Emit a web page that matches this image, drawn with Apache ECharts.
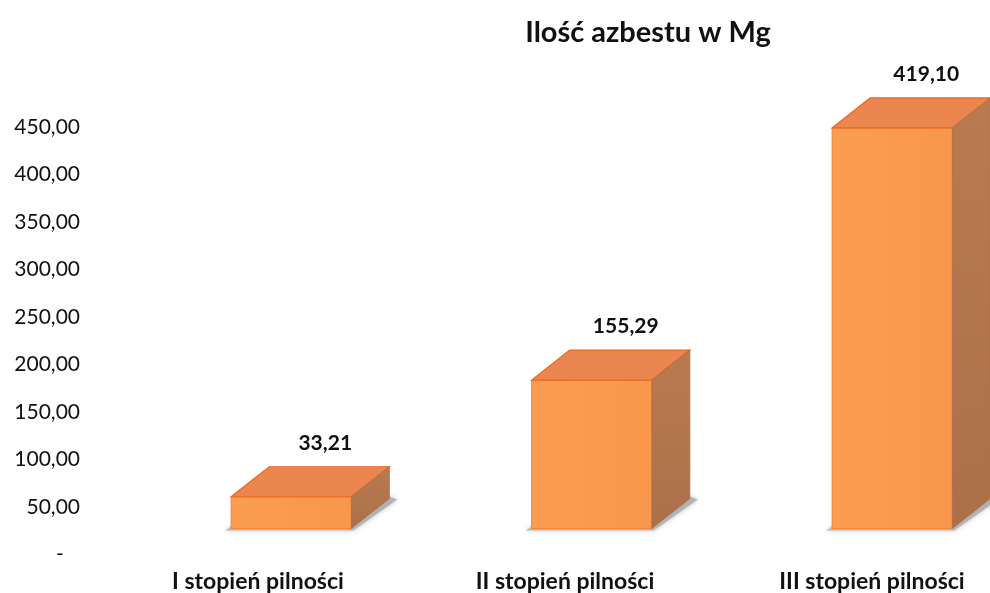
<!DOCTYPE html>
<html>
<head>
<meta charset="utf-8">
<script src="https://cdn.jsdelivr.net/npm/echarts@6/dist/echarts.min.js"></script>
<style>
  html, body { margin: 0; padding: 0; background: #fff; }
  #chart { width: 990px; height: 593px; }
</style>
</head>
<body>
<div id="chart"></div>
<script>
const categories = ['I stopień pilności', 'II stopień pilności', 'III stopień pilności'];
const values = [33.21, 155.29, 419.10];
const yTicks = [0, 50, 100, 150, 200, 250, 300, 350, 400, 450];

const FONT = 'Lato, "Open Sans", sans-serif';
// 3d depth offset of the bars (px)
const DX = 38;
const DY = -30;

function fmt(v) {
  return v.toFixed(2).replace('.', ',');
}

function renderBox(params, api) {
  const idx = api.value(0);
  const val = api.value(1);
  const top = api.coord([idx, val]);
  const base = api.coord([idx, 0]);
  const w = api.size([1, 0])[0] * 0.4;
  const x0 = top[0] - w / 2;
  const x1 = top[0] + w / 2;
  const yT = top[1];
  const yB = base[1];

  return {
    type: 'group',
    children: [
      {
        type: 'polygon',
        shape: { points: [[x0 - 6, yB + 2], [x1 + 2, yB + 2], [x1 + DX + 8, yB + DY + 1], [x1 + DX, yB + DY - 2], [x1, yB - 2], [x0, yB - 2]] },
        style: { fill: 'rgba(160,160,160,0.65)', shadowBlur: 5, shadowColor: 'rgba(140,140,140,0.8)' }
      },
      {
        type: 'rect',
        shape: { x: x0, y: yT, width: w, height: yB - yT },
        style: {
          fill: new echarts.graphic.LinearGradient(0, 0, 1, 0, [
            { offset: 0, color: '#FB9D50' },
            { offset: 1, color: '#F9974C' }
          ]),
          stroke: '#F0823C',
          lineWidth: 1
        }
      },
      {
        type: 'polygon',
        shape: { points: [[x0, yT], [x1, yT], [x1 + DX, yT + DY], [x0 + DX, yT + DY]] },
        style: { fill: '#EB8650', stroke: '#E8681F', lineWidth: 1.2 }
      },
      {
        type: 'polygon',
        shape: { points: [[x1, yT], [x1 + DX, yT + DY], [x1 + DX, yB + DY], [x1, yB]] },
        style: {
          fill: new echarts.graphic.LinearGradient(0, 0, 0, 1, [
            { offset: 0, color: '#BA7A4F' },
            { offset: 1, color: '#AC7049' }
          ]),
          stroke: '#B06E45',
          lineWidth: 0.8
        }
      },
      {
        type: 'text',
        style: {
          text: fmt(val),
          x: top[0] + 34,
          y: yT + DY - 24,
          align: 'center',
          verticalAlign: 'middle',
          font: 'bold 21px ' + FONT,
          fill: '#111'
        }
      }
    ]
  };
}

const chart = echarts.init(document.getElementById('chart'), null, { renderer: 'canvas' });

chart.setOption({
  backgroundColor: '#fff',
  animation: false,
  title: {
    text: 'Ilość azbestu w Mg',
    left: 643,
    textAlign: 'center',
    top: 13,
    textStyle: { fontFamily: FONT, fontWeight: 'bold', fontSize: 29, color: '#111' }
  },
  grid: [
    // y-axis labels
    { left: 88, right: 40, top: 127, bottom: 38.5, outerBoundsMode: 'none' },
    // category labels
    { left: 104.5, width: 921, top: 127, bottom: 35, outerBoundsMode: 'none' },
    // bars
    { left: 141, width: 901.5, top: 98.4, bottom: 64.5, outerBoundsMode: 'none' }
  ],
  xAxis: [
    { gridIndex: 0, type: 'category', data: categories, show: false },
    {
      gridIndex: 1,
      type: 'category',
      data: categories,
      axisLine: { show: false },
      axisTick: { show: false },
      axisLabel: { margin: 12, fontFamily: FONT, fontWeight: 'bold', fontSize: 23, color: '#111' }
    },
    { gridIndex: 2, type: 'category', data: categories, show: false }
  ],
  yAxis: [
    {
      gridIndex: 0,
      type: 'value',
      min: yTicks[0],
      max: yTicks[yTicks.length - 1],
      interval: 50,
      axisLine: { show: false },
      axisTick: { show: false },
      splitLine: { show: false },
      axisLabel: {
        margin: 8,
        fontFamily: FONT,
        fontSize: 21,
        color: '#111',
        formatter: v => (v === 0 ? '-   ' : fmt(v))
      }
    },
    { gridIndex: 1, type: 'value', show: false },
    { gridIndex: 2, type: 'value', min: 0, max: 450, show: false }
  ],
  series: [
    {
      type: 'custom',
      xAxisIndex: 2,
      yAxisIndex: 2,
      clip: false,
      renderItem: renderBox,
      data: values.map((v, i) => [i, v])
    }
  ]
});
</script>
</body>
</html>
